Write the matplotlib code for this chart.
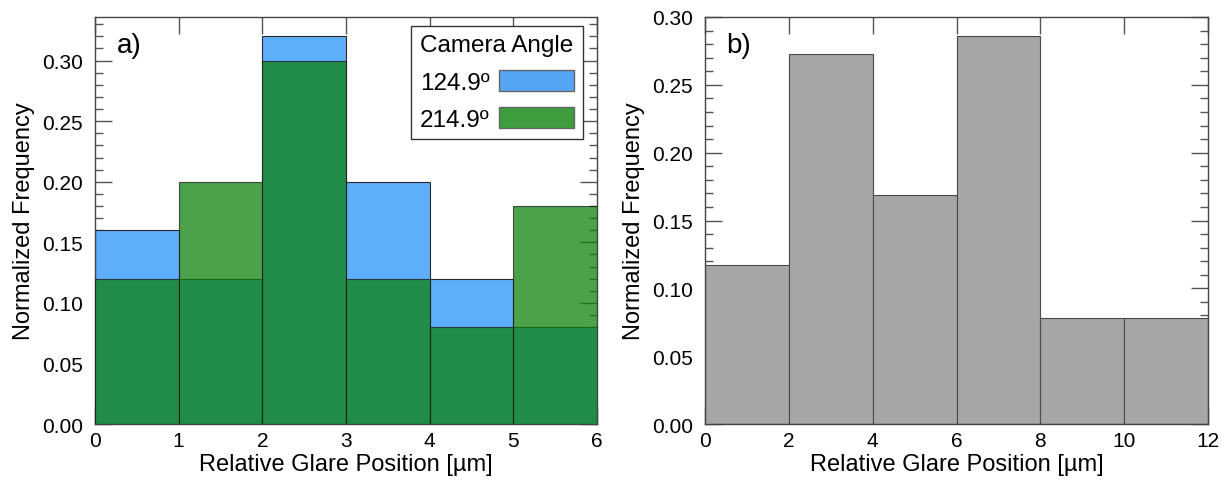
import numpy as np
import matplotlib.pyplot as plt
from matplotlib.patches import Patch
from matplotlib.ticker import MultipleLocator

plt.rcParams['font.family'] = ['Liberation Sans', 'DejaVu Sans']

# panel a: 1 um bins, two camera angles
bins_a = [0, 1, 2, 3, 4, 5, 6]
freq_124 = [0.16, 0.12, 0.32, 0.20, 0.12, 0.08]
freq_214 = [0.12, 0.20, 0.30, 0.12, 0.08, 0.18]
legend_labels = ['124.9º', '214.9º']

# panel b: 2 um bins
bins_b = [0, 2, 4, 6, 8, 10, 12]
freq_b = [0.117, 0.273, 0.169, 0.286, 0.078, 0.078]

xlabel = 'Relative Glare Position [µm]'
ylabel = 'Normalized Frequency'

fig = plt.figure(figsize=(12.24, 4.81), dpi=100)
ax1 = fig.add_axes([0.0776, 0.1164, 0.4101, 0.8462])
ax2 = fig.add_axes([0.5760, 0.1164, 0.4110, 0.8462])


def style_axes(ax):
    for sp in ax.spines.values():
        sp.set_color('#444444')
        sp.set_linewidth(1.0)
    ax.tick_params(which='both', direction='in', top=True, right=True,
                   colors='#555555', labelcolor='black', labelsize=15)
    ax.tick_params(which='major', length=12.5, width=1)
    ax.tick_params(which='minor', length=6, width=1)
    ax.tick_params(axis='y', which='major', pad=8.5)
    ax.tick_params(axis='x', which='major', pad=5)
    ax.tick_params(axis='x', which='minor', top=False, bottom=False)
    ax.yaxis.set_minor_locator(MultipleLocator(0.01))
    ax.set_xlabel(xlabel, fontsize=17, labelpad=2)
    ax.set_ylabel(ylabel, fontsize=17, labelpad=5)


# panel a
left_a = np.array(bins_a[:-1])
width_a = np.diff(bins_a)
ax1.bar(left_a, freq_124, width=width_a, align='edge', color='#5FAEFC',
        edgecolor='#2a2a2a', linewidth=0.8, zorder=2)
ax1.bar(left_a, freq_214, width=width_a, align='edge', color='#0E830E',
        alpha=0.75, edgecolor='#1a1a1a', linewidth=0.8, zorder=3)
ax1.set_xlim(bins_a[0], bins_a[-1])
ax1.set_ylim(0, 0.336)
ax1.set_xticks(bins_a)
ax1.yaxis.set_major_locator(MultipleLocator(0.05))
ax1.yaxis.set_major_formatter(plt.FormatStrFormatter('%.2f'))
style_axes(ax1)
ax1.text(0.043, 0.962, 'a)', transform=ax1.transAxes, fontsize=20,
         va='top', ha='left')

handles = [Patch(facecolor='#55A5F5', edgecolor='#666666'),
           Patch(facecolor='#3E9E3E', edgecolor='#666666')]
leg = ax1.legend(handles, legend_labels, title='Camera Angle', loc='upper right',
                 bbox_to_anchor=(0.972, 0.978), fontsize=17.5, title_fontsize=17.5,
                 markerfirst=False, handlelength=3.1, handleheight=0.95,
                 handletextpad=0.4, labelspacing=0.55, borderpad=0.35,
                 borderaxespad=0, fancybox=False, framealpha=1,
                 edgecolor='#333333')
leg.get_frame().set_linewidth(1.0)
leg.set_zorder(5)

# panel b
left_b = np.array(bins_b[:-1])
width_b = np.diff(bins_b)
ax2.bar(left_b, freq_b, width=width_b, align='edge', color='#A6A6A6',
        edgecolor='#4a4a4a', linewidth=0.8, zorder=2)
ax2.set_xlim(bins_b[0], bins_b[-1])
ax2.set_ylim(0, 0.30)
ax2.set_xticks(bins_b)
ax2.yaxis.set_major_locator(MultipleLocator(0.05))
ax2.yaxis.set_major_formatter(plt.FormatStrFormatter('%.2f'))
style_axes(ax2)
ax2.text(0.043, 0.962, 'b)', transform=ax2.transAxes, fontsize=20,
         va='top', ha='left')

fig.savefig('out.png', dpi=100)
